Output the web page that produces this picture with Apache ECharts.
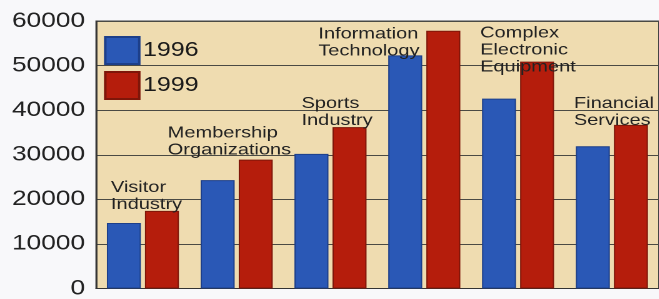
<!DOCTYPE html>
<html>
<head>
<meta charset="utf-8">
<script src="https://cdn.jsdelivr.net/npm/echarts@6/dist/echarts.min.js"></script>
<style>
  html, body { margin: 0; padding: 0; background: #f8f8fa; overflow: hidden; }
  /* the original scan is stretched sideways, so the chart is too */
  #main { width: 527.2px; height: 299px; transform: scaleX(1.25); transform-origin: 0 0; }
</style>
</head>
<body>
<div id="main"></div>
<script>
// categories (drawn as text above each pair of bars)
var categories = ['Visitor\nIndustry', 'Membership\nOrganizations', 'Sports\nIndustry',
                  'Information\nTechnology', 'Complex\nElectronic\nEquipment', 'Financial\nServices'];
var seriesNames = ['1996', '1999'];
var values1996 = [14700, 24300, 30200, 52300, 42600, 31900];
var values1999 = [17400, 28900, 36200, 57800, 50900, 36700];
var yTicks = [0, 10000, 20000, 30000, 40000, 50000, 60000];

// where each category caption sits relative to the top of its 1999 bar (screen px)
var labelOffsets = [[-51, 2], [-88, -1], [-48, 2], [-125, 29], [-57, 14], [-57, 4]];

var SX = 1.25;                      // horizontal stretch
function hx(px) { return px / SX; } // screen px -> chart px (horizontal)

var font = 'Liberation Sans';
var myChart = echarts.init(document.getElementById('main'), null, { devicePixelRatio: 2 });

myChart.setOption({
    backgroundColor: '#f8f8fa',
    animation: false,
    grid: {
        left: hx(96), top: 21, right: hx(-5), bottom: 6,
        show: true,
        backgroundColor: '#efdcb0',
        borderColor: '#444',
        borderWidth: 1
    },
    legend: {
        orient: 'vertical',
        left: hx(104),
        top: 36,
        padding: 0,
        itemWidth: hx(34),
        itemHeight: 27,
        itemGap: 6,
        icon: 'rect',
        textStyle: { fontFamily: font, fontSize: 20, color: '#1a1a1a', padding: [0, 0, 0, -2] },
        data: seriesNames
    },
    xAxis: {
        type: 'category',
        data: categories,
        boundaryGap: true,
        axisLine: { lineStyle: { color: '#333', width: 1 } },
        axisTick: { inside: true, length: 5, lineStyle: { color: '#333' } },
        axisLabel: { show: false }
    },
    yAxis: {
        type: 'value',
        min: yTicks[0],
        max: yTicks[yTicks.length - 1],
        interval: yTicks[1] - yTicks[0],
        axisLine: { show: true, lineStyle: { color: '#333' } },
        axisTick: { show: false },
        axisLabel: {
            fontFamily: font, fontSize: 21, color: '#222', margin: hx(11),
            formatter: function (v) { return String(v); }
        },
        splitLine: { lineStyle: { color: '#4a4a44', width: 1 } }
    },
    series: [{
        name: seriesNames[0],
        type: 'bar',
        barWidth: hx(34),
        barGap: '12%',
        itemStyle: { color: '#2a58b6', borderColor: '#1d3f8a', borderWidth: 1 },
        data: values1996
    }, {
        name: seriesNames[1],
        type: 'bar',
        barWidth: hx(34),
        itemStyle: { color: '#b51d0c', borderColor: '#7e1609', borderWidth: 1 },
        label: {
            show: true,
            position: 'top',
            distance: 0,
            align: 'left',
            verticalAlign: 'bottom',
            fontFamily: font,
            fontSize: 16,
            lineHeight: 17,
            color: '#222',
            formatter: function (p) { return categories[p.dataIndex]; }
        },
        data: values1999.map(function (v, i) {
            return { value: v, label: { offset: [hx(labelOffsets[i][0]), labelOffsets[i][1]] } };
        })
    }]
});
</script>
</body>
</html>
